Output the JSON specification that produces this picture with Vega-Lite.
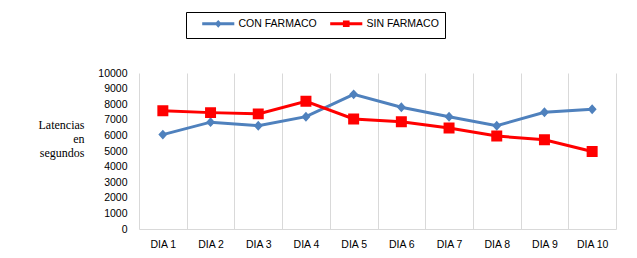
{
  "$schema": "https://vega.github.io/schema/vega-lite/v6.json",
  "width": 477,
  "height": 156,
  "autosize": {"type": "none"},
  "padding": {"left": 139, "top": 73, "right": 21, "bottom": 29},
  "background": "white",
  "config": {"view": {"stroke": null}, "font": "Liberation Sans"},
  "data": {"values": [
    {"dia": "DIA 1", "serie": "CON FARMACO", "valor": 6050},
    {"dia": "DIA 2", "serie": "CON FARMACO", "valor": 6850},
    {"dia": "DIA 3", "serie": "CON FARMACO", "valor": 6620},
    {"dia": "DIA 4", "serie": "CON FARMACO", "valor": 7200},
    {"dia": "DIA 5", "serie": "CON FARMACO", "valor": 8630},
    {"dia": "DIA 6", "serie": "CON FARMACO", "valor": 7800},
    {"dia": "DIA 7", "serie": "CON FARMACO", "valor": 7200},
    {"dia": "DIA 8", "serie": "CON FARMACO", "valor": 6620},
    {"dia": "DIA 9", "serie": "CON FARMACO", "valor": 7480},
    {"dia": "DIA 10", "serie": "CON FARMACO", "valor": 7680},
    {"dia": "DIA 1", "serie": "SIN FARMACO", "valor": 7580},
    {"dia": "DIA 2", "serie": "SIN FARMACO", "valor": 7460},
    {"dia": "DIA 3", "serie": "SIN FARMACO", "valor": 7380},
    {"dia": "DIA 4", "serie": "SIN FARMACO", "valor": 8190},
    {"dia": "DIA 5", "serie": "SIN FARMACO", "valor": 7050},
    {"dia": "DIA 6", "serie": "SIN FARMACO", "valor": 6870},
    {"dia": "DIA 7", "serie": "SIN FARMACO", "valor": 6480},
    {"dia": "DIA 8", "serie": "SIN FARMACO", "valor": 5960},
    {"dia": "DIA 9", "serie": "SIN FARMACO", "valor": 5720},
    {"dia": "DIA 10", "serie": "SIN FARMACO", "valor": 4970}
  ]},
  "encoding": {
    "x": {
      "field": "dia", "type": "nominal", "sort": null, "bandPosition": 0.5,
      "scale": {"type": "band", "paddingInner": 0, "paddingOuter": 0},
      "axis": {
        "title": null, "labelAngle": 0, "grid": true, "gridColor": "#d9d9d9",
        "tickBand": "extent", "ticks": false, "domainColor": "#d9d9d9",
        "labelFont": "Liberation Sans", "labelFontSize": 10.5, "labelColor": "#000",
        "labelPadding": 10
      }
    },
    "y": {
      "field": "valor", "type": "quantitative",
      "scale": {"domain": [0, 10000], "nice": false},
      "axis": {
        "values": [0, 1000, 2000, 3000, 4000, 5000, 6000, 7000, 8000, 9000, 10000],
        "format": "d",
        "grid": false, "domain": false, "ticks": false, "labelPadding": 12,
        "labelFont": "Liberation Sans", "labelFontSize": 10.5, "labelColor": "#000",
        "title": ["Latencias", "en", "segundos"], "titleAngle": 0, "titleAlign": "right",
        "titleBaseline": "middle", "titleX": -55, "titleY": 51,
        "titleFont": "Liberation Serif", "titleFontSize": 12, "titleFontWeight": "normal",
        "titleLineHeight": 14, "titleColor": "#000"
      }
    },
    "color": {
      "field": "serie", "type": "nominal",
      "scale": {"domain": ["CON FARMACO", "SIN FARMACO"], "range": ["#4F81BD", "#FF0000"]},
      "legend": {
        "title": " ", "titleOrient": "left", "titlePadding": 21,
        "orient": "none", "legendX": 47, "legendY": -61, "direction": "horizontal",
        "strokeColor": "black", "padding": 6, "symbolSize": 9, "symbolStrokeWidth": 3,
        "labelFont": "Liberation Sans", "labelFontSize": 10.5, "labelColor": "#000",
        "labelOffset": 15, "columnPadding": 7,
        "encode": {"symbols": {"update": {"stroke": {"scale": "color", "field": "value"}, "strokeWidth": {"value": 3}}}}
      }
    }
  },
  "layer": [
    {"mark": {"type": "line", "strokeWidth": 3}},
    {
      "mark": {"type": "point", "filled": true, "opacity": 1, "size": 81, "strokeWidth": 0},
      "encoding": {
        "shape": {
          "field": "serie", "type": "nominal",
          "scale": {"domain": ["CON FARMACO", "SIN FARMACO"], "range": ["M-10.7,0H10.7M-1,0L0,-1.1L1,0L0,1.1Z", "M-10.7,0H10.7M-1.22,-1.22H1.22V1.22H-1.22Z"]},
          "legend": {
            "title": " ", "titleOrient": "left", "titlePadding": 21,
            "orient": "none", "legendX": 47, "legendY": -61, "direction": "horizontal",
            "strokeColor": "black", "padding": 6, "symbolSize": 9, "symbolStrokeWidth": 3,
            "labelFont": "Liberation Sans", "labelFontSize": 10.5, "labelColor": "#000",
            "labelOffset": 15, "columnPadding": 7,
            "encode": {"symbols": {"update": {"stroke": {"scale": "color", "field": "value"}, "strokeWidth": {"value": 3}}}}
          }
        }
      }
    }
  ]
}
